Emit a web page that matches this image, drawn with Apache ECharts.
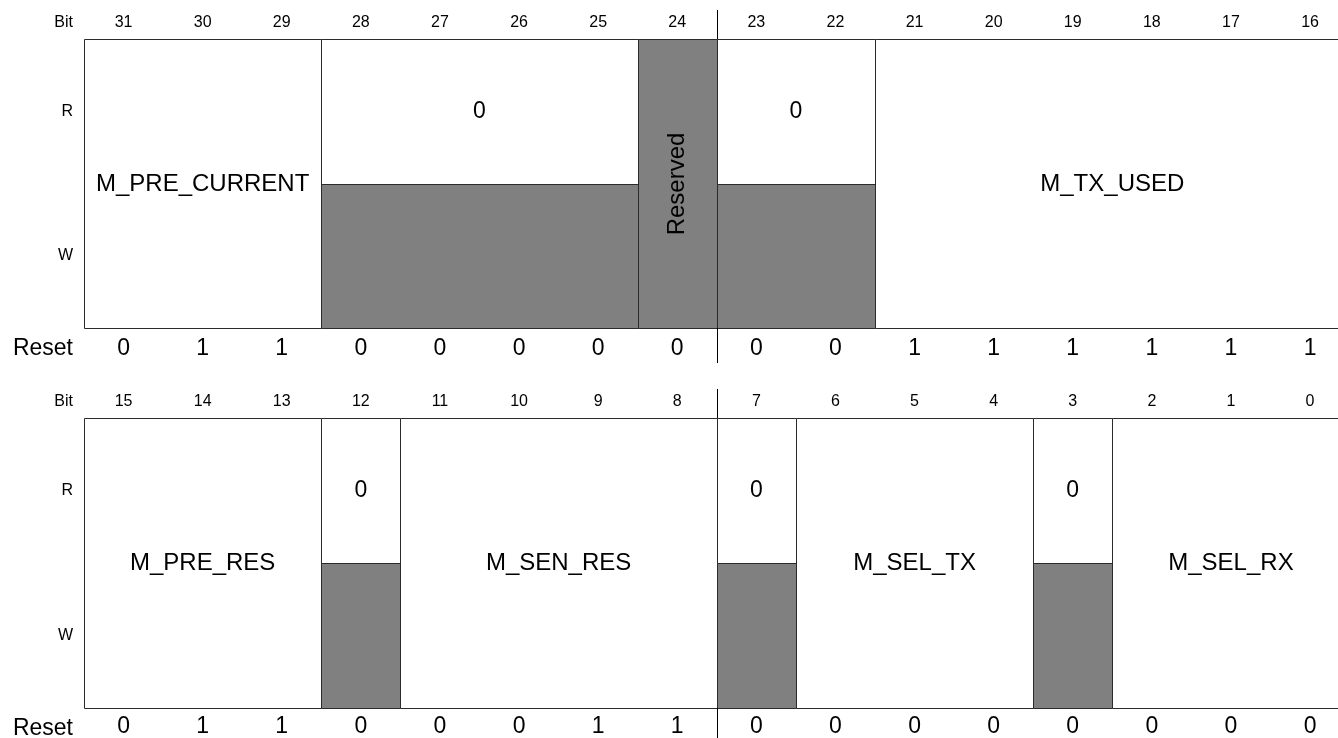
<!DOCTYPE html>
<html>
<head>
<meta charset="utf-8">
<script src="https://cdn.jsdelivr.net/npm/echarts@6/dist/echarts.min.js"></script>
<style>
  html, body { margin: 0; padding: 0; background: #fff; }
  #chart { width: 1338px; height: 738px; }
</style>
</head>
<body>
<div id="chart"></div>
<script>
// ---------- data ----------
const topBits = [31, 30, 29, 28, 27, 26, 25, 24, 23, 22, 21, 20, 19, 18, 17, 16];
const bottomBits = [15, 14, 13, 12, 11, 10, 9, 8, 7, 6, 5, 4, 3, 2, 1, 0];
const topReset = [0, 1, 1, 0, 0, 0, 0, 0, 0, 0, 1, 1, 1, 1, 1, 1];
const bottomReset = [0, 1, 1, 0, 0, 0, 1, 1, 0, 0, 0, 0, 0, 0, 0, 0];

const topFieldNames = ['M_PRE_CURRENT', '0', 'Reserved', '0', 'M_TX_USED'];
const topFieldMsb = [31, 28, 24, 23, 21];
const topFieldLsb = [29, 25, 24, 22, 16];
const topFieldAccess = ['rw', 'r0', 'rsvd', 'r0', 'rw'];

const bottomFieldNames = ['M_PRE_RES', '0', 'M_SEN_RES', '0', 'M_SEL_TX', '0', 'M_SEL_RX'];
const bottomFieldMsb = [15, 12, 11, 7, 6, 3, 2];
const bottomFieldLsb = [13, 12, 8, 7, 4, 3, 0];
const bottomFieldAccess = ['rw', 'r0', 'rw', 'r0', 'rw', 'r0', 'rw'];

const rowLabels = ['Bit', 'R', 'W', 'Reset'];
const topByteBoundaryBits = [24];     // separator after this bit
const bottomByteBoundaryBits = [8];

// ---------- style ----------
const FONT = '"Liberation Sans", Arial, Helvetica, sans-serif';
const GRAY = '#808080';
const LINE = '#2b2b2b';
const COL_W = 79.1;            // pixel width of one bit column
const GRID_LEFT = 84;
const VISIBLE_COLS = (1338 - GRID_LEFT) / COL_W;  // diagram is clipped at the right edge

function px(v) { return Math.round(v) + 0.5; }

function fieldSeries(gridIdx, names, msb, lsb, access, bits) {
  const msbTop = bits[0];
  const data = names.map((n, i) => ({ name: n, value: [msbTop - msb[i], msbTop - lsb[i] + 1] }));
  return {
    type: 'custom', xAxisIndex: gridIdx, yAxisIndex: gridIdx, clip: false, silent: true,
    data: data,
    renderItem: function (params, api) {
      const i = params.dataIndex;
      const c0 = api.value(0), c1 = api.value(1);
      const tl = api.coord([c0, 2]);
      const br = api.coord([c1, 0]);
      const mid = api.coord([c0, 1]);
      const cx = (tl[0] + br[0]) / 2;
      const x0 = px(tl[0]), x1 = px(br[0]), y0 = px(tl[1]), y1 = px(br[1]), ym = px(mid[1]);
      const acc = access[i];
      const children = [];
      const stroke = { stroke: LINE, lineWidth: 1 };
      if (acc === 'rw') {
        children.push({ type: 'rect', shape: { x: x0, y: y0, width: x1 - x0, height: y1 - y0 }, style: Object.assign({ fill: '#fff' }, stroke) });
        children.push({ type: 'text', style: { text: names[i], x: cx, y: (y0 + y1) / 2, align: 'center', verticalAlign: 'middle', font: '24px ' + FONT, fill: '#000' } });
      } else if (acc === 'r0') {
        children.push({ type: 'rect', shape: { x: x0, y: y0, width: x1 - x0, height: ym - y0 }, style: Object.assign({ fill: '#fff' }, stroke) });
        children.push({ type: 'rect', shape: { x: x0, y: ym, width: x1 - x0, height: y1 - ym }, style: Object.assign({ fill: GRAY }, stroke) });
        const rmid = api.coord([c0, 1.5]);
        children.push({ type: 'text', style: { text: names[i], x: cx, y: rmid[1], align: 'center', verticalAlign: 'middle', font: '23px ' + FONT, fill: '#000' } });
      } else {
        children.push({ type: 'rect', shape: { x: x0, y: y0, width: x1 - x0, height: y1 - y0 }, style: Object.assign({ fill: GRAY }, stroke) });
        children.push({ type: 'text', x: cx, y: (y0 + y1) / 2, rotation: Math.PI / 2, style: { text: names[i], x: 0, y: 0, align: 'center', verticalAlign: 'middle', font: '24px ' + FONT, fill: '#000' } });
      }
      return { type: 'group', children: children };
    }
  };
}

function textRowSeries(gridIdx, labels, yVal, dy, fontSize) {
  return {
    type: 'custom', xAxisIndex: gridIdx, yAxisIndex: gridIdx, clip: false, silent: true,
    data: labels.map((l, i) => ({ name: String(l), value: [i + 0.5, yVal] })),
    renderItem: function (params, api) {
      const p = api.coord([api.value(0), api.value(1)]);
      return { type: 'text', style: { text: String(labels[params.dataIndex]), x: p[0], y: p[1] + dy, align: 'center', verticalAlign: 'middle', font: fontSize + 'px ' + FONT, fill: '#000' } };
    }
  };
}

function rowLabelSeries(gridIdx) {
  const ys = [2, 1.5, 0.5, 0];
  const dys = [-16, 0, 0, 21];
  const sizes = [16, 16, 16, 23];
  return {
    type: 'custom', xAxisIndex: gridIdx, yAxisIndex: gridIdx, clip: false, silent: true,
    data: rowLabels.map((l, i) => ({ name: l, value: [0, ys[i]] })),
    renderItem: function (params, api) {
      const i = params.dataIndex;
      const p = api.coord([api.value(0), api.value(1)]);
      return { type: 'text', style: { text: rowLabels[i], x: p[0] - 11, y: p[1] + dys[i], align: 'right', verticalAlign: 'middle', font: sizes[i] + 'px ' + FONT, fill: '#000' } };
    }
  };
}

function separatorSeries(gridIdx, boundaryBits, bits) {
  return {
    type: 'custom', xAxisIndex: gridIdx, yAxisIndex: gridIdx, clip: false, silent: true,
    data: boundaryBits.map(b => [bits[0] - b + 1]),
    renderItem: function (params, api) {
      const c = api.value(0);
      const t = api.coord([c, 2]);
      const b = api.coord([c, 0]);
      const x = px(t[0]);
      return {
        type: 'group', children: [
          { type: 'line', shape: { x1: x, y1: t[1] - 29, x2: x, y2: t[1] }, style: { stroke: '#000', lineWidth: 1 } },
          { type: 'line', shape: { x1: x, y1: b[1], x2: x, y2: b[1] + 35 }, style: { stroke: '#000', lineWidth: 1 } }
        ]
      };
    }
  };
}

const chart = echarts.init(document.getElementById('chart'), null, { renderer: 'canvas' });
const axisX = idx => ({ type: 'value', gridIndex: idx, min: 0, max: VISIBLE_COLS, show: false });
const axisY = idx => ({ type: 'value', gridIndex: idx, min: 0, max: 2, show: false });

chart.setOption({
  backgroundColor: '#ffffff',
  animation: false,
  grid: [
    { left: GRID_LEFT, right: 0, top: 39, height: 289 },
    { left: GRID_LEFT, right: 0, top: 418, height: 290 }
  ],
  xAxis: [axisX(0), axisX(1)],
  yAxis: [axisY(0), axisY(1)],
  series: [
    fieldSeries(0, topFieldNames, topFieldMsb, topFieldLsb, topFieldAccess, topBits),
    fieldSeries(1, bottomFieldNames, bottomFieldMsb, bottomFieldLsb, bottomFieldAccess, bottomBits),
    textRowSeries(0, topBits, 2, -16, 16),
    textRowSeries(1, bottomBits, 2, -16, 16),
    textRowSeries(0, topReset, 0, 21, 23),
    textRowSeries(1, bottomReset, 0, 19, 23),
    rowLabelSeries(0),
    rowLabelSeries(1),
    separatorSeries(0, topByteBoundaryBits, topBits),
    separatorSeries(1, bottomByteBoundaryBits, bottomBits)
  ]
});
</script>
</body>
</html>
